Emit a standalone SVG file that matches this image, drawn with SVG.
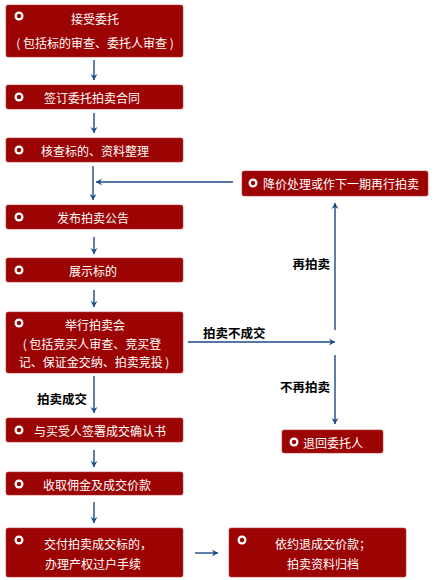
<svg xmlns="http://www.w3.org/2000/svg" width="441" height="580" viewBox="0 0 441 580">
<defs>
<style>
.box{fill:#9c0303;stroke:#b53a3a;stroke-width:0.6}
.t{fill:#ffffff;font-family:"Noto Sans CJK SC","Noto Sans",sans-serif;font-size:12px;text-anchor:middle;dominant-baseline:central}
.lbl{fill:#000000;font-family:"Noto Sans CJK SC","Noto Sans",sans-serif;font-size:12.5px;font-weight:bold;dominant-baseline:central}
.ln{stroke:#1c4a86;stroke-width:1.4;fill:none}
.bo{fill:#ffffff}
.bi{fill:#9c0303}
</style>
<marker id="ah" viewBox="0 0 8 8" refX="7" refY="4" markerWidth="8" markerHeight="8" markerUnits="userSpaceOnUse" orient="auto">
<path d="M1,0.5 L7,4 L1,7.5 L3,4 Z" fill="#1c4a86"/>
</marker>
</defs>
<rect width="441" height="580" fill="#ffffff"/>

<g id="connectors">
<line class="ln" x1="94" y1="60" x2="94" y2="80" marker-end="url(#ah)"/>
<line class="ln" x1="94" y1="113" x2="94" y2="133" marker-end="url(#ah)"/>
<line class="ln" x1="93" y1="166" x2="93" y2="200" marker-end="url(#ah)"/>
<line class="ln" x1="233" y1="182" x2="96" y2="182" marker-end="url(#ah)"/>
<line class="ln" x1="94" y1="237" x2="94" y2="254" marker-end="url(#ah)"/>
<line class="ln" x1="94" y1="290" x2="94" y2="307" marker-end="url(#ah)"/>
<line class="ln" x1="94" y1="376" x2="94" y2="413" marker-end="url(#ah)"/>
<line class="ln" x1="94" y1="450" x2="94" y2="467" marker-end="url(#ah)"/>
<line class="ln" x1="94" y1="502" x2="94" y2="523" marker-end="url(#ah)"/>
<line class="ln" x1="188" y1="342" x2="335" y2="342" marker-end="url(#ah)"/>
<line class="ln" x1="335" y1="330" x2="335" y2="203" marker-end="url(#ah)"/>
<line class="ln" x1="335" y1="355" x2="335" y2="424" marker-end="url(#ah)"/>
<line class="ln" x1="195" y1="553" x2="218" y2="553" marker-end="url(#ah)"/>
<text class="lbl" x="330" y="263" text-anchor="end">再拍卖</text>
<text class="lbl" x="203" y="332">拍卖不成交</text>
<text class="lbl" x="330" y="386" text-anchor="end">不再拍卖</text>
<text class="lbl" x="37" y="398">拍卖成交</text>
</g>

<g id="n1">
<rect class="box" x="6" y="5" width="177" height="52" rx="2"/>
<circle class="bo" cx="19" cy="16" r="4.5"/><circle class="bi" cx="19" cy="16" r="2.2"/>
<text class="t" x="95" y="18">接受委托</text>
<text class="t" x="95" y="42">( 包括标的审查、委托人审查 )</text>
</g>
<g id="n2">
<rect class="box" x="6" y="85" width="177" height="24" rx="2"/>
<circle class="bo" cx="19" cy="97" r="4.5"/><circle class="bi" cx="19" cy="97" r="2.2"/>
<text class="t" x="92" y="97">签订委托拍卖合同</text>
</g>
<g id="n3">
<rect class="box" x="6" y="138" width="177" height="24" rx="2"/>
<circle class="bo" cx="19" cy="150" r="4.5"/><circle class="bi" cx="19" cy="150" r="2.2"/>
<text class="t" x="95" y="150">核查标的、资料整理</text>
</g>
<g id="n4">
<rect class="box" x="6" y="205" width="177" height="24" rx="2"/>
<circle class="bo" cx="19" cy="217" r="4.5"/><circle class="bi" cx="19" cy="217" r="2.2"/>
<text class="t" x="93" y="217">发布拍卖公告</text>
</g>
<g id="n5">
<rect class="box" x="6" y="258" width="177" height="24" rx="2"/>
<circle class="bo" cx="19" cy="270" r="4.5"/><circle class="bi" cx="19" cy="270" r="2.2"/>
<text class="t" x="93" y="270">展示标的</text>
</g>
<g id="n6">
<rect class="box" x="6" y="312" width="177" height="61" rx="2"/>
<circle class="bo" cx="19" cy="323" r="4.5"/><circle class="bi" cx="19" cy="323" r="2.2"/>
<text class="t" x="95" y="324">举行拍卖会</text>
<text class="t" x="92" y="343">( 包括竞买人审查、竞买登</text>
<text class="t" x="94" y="361">记、保证金交纳、拍卖竞投 )</text>
</g>
<g id="n7">
<rect class="box" x="6" y="418" width="177" height="24" rx="2"/>
<circle class="bo" cx="19" cy="430" r="4.5"/><circle class="bi" cx="19" cy="430" r="2.2"/>
<text class="t" x="100" y="430">与买受人签署成交确认书</text>
</g>
<g id="n8">
<rect class="box" x="6" y="472" width="177" height="23" rx="2"/>
<circle class="bo" cx="19" cy="484" r="4.5"/><circle class="bi" cx="19" cy="484" r="2.2"/>
<text class="t" x="97" y="484">收取佣金及成交价款</text>
</g>
<g id="n9">
<rect class="box" x="6" y="528" width="177" height="49" rx="2"/>
<circle class="bo" cx="19" cy="540" r="4.5"/><circle class="bi" cx="19" cy="540" r="2.2"/>
<text class="t" x="98" y="543">交付拍卖成交标的，</text>
<text class="t" x="93" y="563">办理产权过户手续</text>
</g>
<g id="n10">
<rect class="box" x="229" y="528" width="177" height="49" rx="2"/>
<circle class="bo" cx="242" cy="540" r="4.5"/><circle class="bi" cx="242" cy="540" r="2.2"/>
<text class="t" x="323" y="543">依约退成交价款；</text>
<text class="t" x="323" y="563">拍卖资料归档</text>
</g>
<g id="n11">
<rect class="box" x="242" y="171" width="186" height="25" rx="2"/>
<circle class="bo" cx="253" cy="183" r="4.5"/><circle class="bi" cx="253" cy="183" r="2.2"/>
<text class="t" x="341" y="183">降价处理或作下一期再行拍卖</text>
</g>
<g id="n12">
<rect class="box" x="282" y="430" width="101" height="23" rx="2"/>
<circle class="bo" cx="294" cy="442" r="4.5"/><circle class="bi" cx="294" cy="442" r="2.2"/>
<text class="t" x="333" y="442">退回委托人</text>
</g>
</svg>
